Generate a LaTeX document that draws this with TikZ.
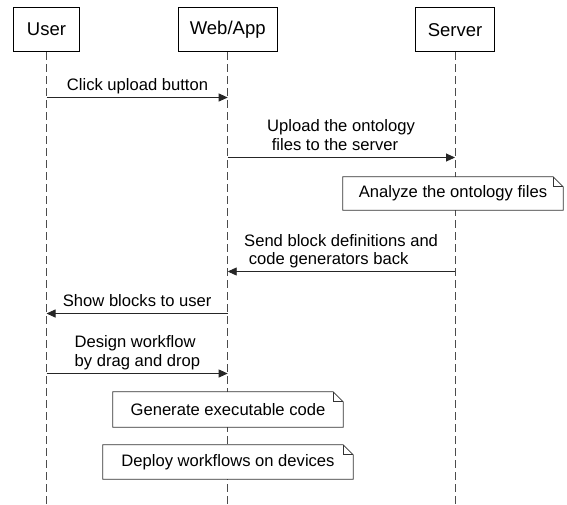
\documentclass[tikz,border=0pt]{standalone}
\usepackage{fontspec}
\setmainfont{Liberation Sans}
\usetikzlibrary{arrows.meta}
\tikzset{
  actor/.style={draw, line width=1.3pt, minimum height=44pt, inner sep=0pt, font=\fontsize{18.5}{22}\selectfont, anchor=north},
  lifeline/.style={draw=black!70, dash pattern=on 8pt off 4pt, line width=0.9pt},
  msg/.style={draw=black!85, line width=0.9pt, -{Triangle[length=9pt,width=8pt]}},
  lbl/.style={font=\fontsize{16.6}{18.3}\selectfont, align=left, inner sep=0pt, anchor=base west},
  notebox/.style={font=\fontsize{16.6}{19}\selectfont, inner sep=0pt, fill=white},
  noteline/.style={draw=black!80, line width=0.8pt},
}
\begin{document}
\begin{tikzpicture}[x=1pt,y=-1pt]
\useasboundingbox (0,0) rectangle (567,504);
% actors
\node[actor, minimum width=66pt] (user) at (46.5,7) {User};
\node[actor, minimum width=99pt] (web) at (227.7,7) {Web/App};
\node[actor, minimum width=79pt] (server) at (455,7) {Server};
% lifeline ends
\coordinate (userEnd) at (46.5,504);
\coordinate (webEnd) at (227.7,504);
\coordinate (serverEnd) at (455,504);
\draw[lifeline] (user.south) -- (userEnd);
\draw[lifeline] (web.south) -- (webEnd);
\draw[lifeline] (server.south) -- (serverEnd);
% message points
\coordinate (u1) at (46.5,97.5);  \coordinate (w1) at (227.7,97.5);
\coordinate (w2) at (227.7,157.5); \coordinate (s2) at (455,157.5);
\coordinate (s3) at (455,271.5); \coordinate (w3) at (227.7,271.5);
\coordinate (w4) at (227.7,313.5); \coordinate (u4) at (46.5,313.5);
\coordinate (u5) at (46.5,373.5); \coordinate (w5) at (227.7,373.5);
% messages
\draw[msg] (u1) -- (w1);
\node[lbl] (m1) at (66.7,90.7) {Click upload button};
\draw[msg] (w2) -- (s2);
\node[lbl] (m2) at (267,150) {Upload the ontology\\\ files to the server};
\draw[msg] (s3) -- (w3);
\node[lbl] (m3) at (244,264.3) {Send block definitions and\\\ code generators back};
\draw[msg] (w4) -- (u4);
\node[lbl] (m4) at (62.7,306) {Show blocks to user};
\draw[msg] (u5) -- (w5);
\node[lbl] (m5) at (74.5,366) {Design workflow\\by drag and drop};
% notes
\node[notebox, minimum width=220pt, minimum height=33pt] (n1) at (453,193.5) {Analyze the ontology files};
\draw[noteline] (n1.north west) -- ([xshift=-10pt]n1.north east) -- ([yshift=-10pt]n1.north east) -- (n1.south east) -- (n1.south west) -- cycle;
\draw[noteline] ([xshift=-10pt]n1.north east) -- ([xshift=-10pt,yshift=-10pt]n1.north east) -- ([yshift=-10pt]n1.north east);
\node[notebox, minimum width=230pt, minimum height=35pt] (n2) at (228,409.5) {Generate executable code};
\draw[noteline] (n2.north west) -- ([xshift=-10pt]n2.north east) -- ([yshift=-10pt]n2.north east) -- (n2.south east) -- (n2.south west) -- cycle;
\draw[noteline] ([xshift=-10pt]n2.north east) -- ([xshift=-10pt,yshift=-10pt]n2.north east) -- ([yshift=-10pt]n2.north east);
\node[notebox, minimum width=250pt, minimum height=34pt] (n3) at (228,462) {Deploy workflows on devices};
\draw[noteline] (n3.north west) -- ([xshift=-10pt]n3.north east) -- ([yshift=-10pt]n3.north east) -- (n3.south east) -- (n3.south west) -- cycle;
\draw[noteline] ([xshift=-10pt]n3.north east) -- ([xshift=-10pt,yshift=-10pt]n3.north east) -- ([yshift=-10pt]n3.north east);
\end{tikzpicture}
\end{document}
